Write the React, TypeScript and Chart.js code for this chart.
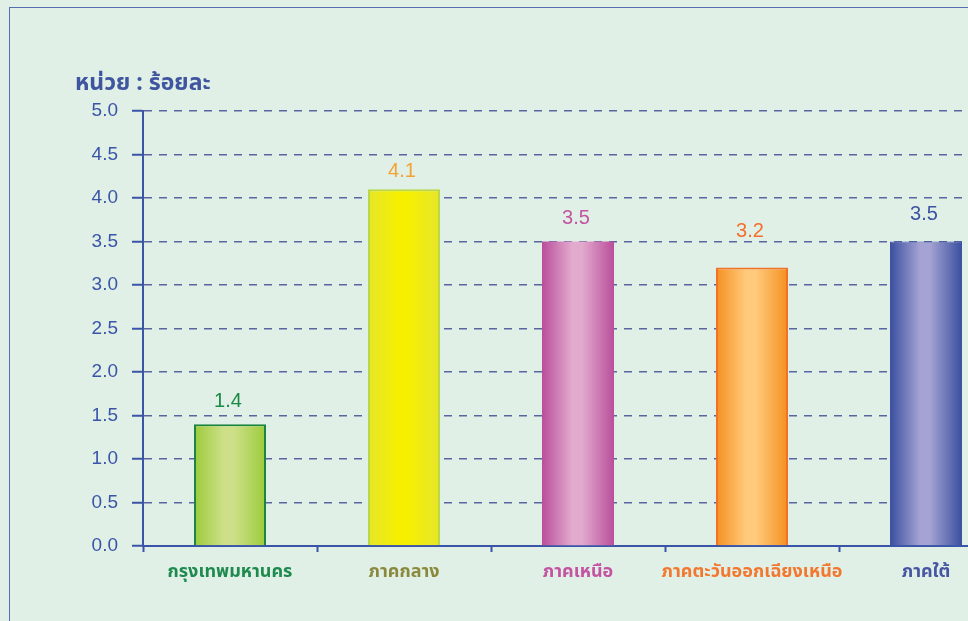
import React, { useEffect, useRef } from "react";
import { Chart, registerables } from "chart.js";

Chart.register(...registerables);

const unitTitle = "หน่วย : ร้อยละ";
const categories = ["กรุงเทพมหานคร", "ภาคกลาง", "ภาคเหนือ", "ภาคตะวันออกเฉียงเหนือ", "ภาคใต้"];
const values = [1.4, 4.1, 3.5, 3.2, 3.5];
const yMin = 0;
const yMax = 5;
const yStep = 0.5;

const edgeColors = ["#9ccb3a", "#e6e62c", "#ba4e9b", "#f59020", "#3a4fa0"];
const centerColors = ["#cde089", "#f6ef00", "#e2abce", "#ffca7c", "#a5a3d3"];
const borderColors = ["#1b8443", "#b9d844", "#c05ea8", "#f07228", "#3e52a2"];
const borderWidths = [2, 2, 0, 2, 1];
const valueColors = ["#1b8a45", "#f3a234", "#c453a2", "#f26f2c", "#3c52a2"];
const categoryColors = ["#1f8a4e", "#8a8a3e", "#c453a2", "#f2782f", "#4656a2"];
// vertical gap (px) between each value label's centre and its bar top
const labelGaps = [23, 18, 23, 36, 27];

const AXIS = "#3a55a8";
const GRID = "#5866a0";
const BG = "#e0f0e6";
const BAR_PCT = 0.414;
const THAI_FONT = '"Noto Sans Thai", Tahoma, "DejaVu Sans", "Liberation Sans", sans-serif';

const labelPlugin = {
  id: "valueLabels",
  afterDatasetsDraw(chart: any) {
    const { ctx, chartArea } = chart;
    const meta = chart.getDatasetMeta(0);
    ctx.save();
    ctx.font = '20px "Liberation Sans", Arial, sans-serif';
    ctx.textAlign = "center";
    ctx.textBaseline = "middle";
    meta.data.forEach((bar: any, i: number) => {
      ctx.fillStyle = valueColors[i];
      ctx.fillText(values[i].toFixed(1), bar.x - 2, bar.y - labelGaps[i]);
    });
    ctx.font = "bold 23px " + THAI_FONT;
    ctx.textAlign = "left";
    ctx.textBaseline = "middle";
    ctx.fillStyle = "#3f55a0";
    ctx.fillText(unitTitle, chartArea.left - 68, chartArea.top - 26);
    ctx.restore();
  },
};

export default function App() {
  const ref = useRef<HTMLCanvasElement | null>(null);

  useEffect(() => {
    if (!ref.current) return;
    const chart = new Chart(ref.current, {
      type: "bar",
      data: {
        labels: categories,
        datasets: [
          {
            data: values,
            backgroundColor: (c: any) => {
              const ch = c.chart;
              const xs = ch.scales && ch.scales.x;
              const i = c.dataIndex ?? 0;
              if (!xs) return edgeColors[i];
              const cx = xs.getPixelForValue(i);
              const w = (xs.width / categories.length) * BAR_PCT;
              if (!isFinite(cx) || !isFinite(w) || w <= 0) return edgeColors[i];
              const g = ch.ctx.createLinearGradient(cx - w / 2, 0, cx + w / 2, 0);
              g.addColorStop(0, edgeColors[i]);
              g.addColorStop(0.42, centerColors[i]);
              g.addColorStop(0.55, centerColors[i]);
              g.addColorStop(1, edgeColors[i]);
              return g;
            },
            borderColor: borderColors,
            borderWidth: borderWidths,
            borderSkipped: "bottom",
            barPercentage: BAR_PCT,
            categoryPercentage: 1,
          },
        ],
      },
      options: {
        responsive: false,
        animation: false,
        devicePixelRatio: 1,
        layout: { padding: { left: 0, top: 111, right: 27, bottom: 0 } },
        plugins: {
          legend: { display: false },
          title: { display: false },
          tooltip: { enabled: false },
        },
        scales: {
          x: {
            offset: true,
            grid: {
              offset: true,
              drawOnChartArea: false,
              drawTicks: true,
              tickLength: 6,
              tickColor: AXIS,
              tickWidth: 2,
            },
            border: { color: AXIS, width: 2 },
            ticks: {
              padding: 11,
              maxRotation: 0,
              autoSkip: false,
              color: (c: any) => categoryColors[c.index] ?? AXIS,
              font: { family: THAI_FONT, size: 18, weight: "bold" },
            },
            afterFit: (s: any) => {
              s.height = 75;
            },
          },
          y: {
            min: yMin,
            max: yMax,
            grid: {
              color: GRID,
              lineWidth: 1.5,
              tickLength: 11,
              tickColor: AXIS,
              tickWidth: 2,
              tickBorderDash: [],
            },
            border: { color: AXIS, width: 2, dash: [8, 7] },
            ticks: {
              stepSize: yStep,
              padding: 14,
              color: AXIS,
              font: { family: '"Liberation Sans", Arial, sans-serif', size: 19 },
              callback: (v: any) => Number(v).toFixed(1),
            },
            afterFit: (s: any) => {
              s.width = 143;
            },
          },
        },
      },
      plugins: [labelPlugin],
    } as any);
    return () => chart.destroy();
  }, []);

  return (
    <div
      style={{
        position: "fixed",
        left: 0,
        top: 0,
        width: 968,
        height: 621,
        overflow: "hidden",
        background: BG,
      }}
    >
      <div
        style={{
          position: "absolute",
          left: 9,
          top: 7,
          width: 1200,
          height: 800,
          border: "1px solid #5a6cb0",
        }}
      />
      <canvas
        ref={ref}
        width={1040}
        height={621}
        style={{ position: "absolute", left: 0, top: 0, width: 1040, height: 621 }}
      />
    </div>
  );
}
